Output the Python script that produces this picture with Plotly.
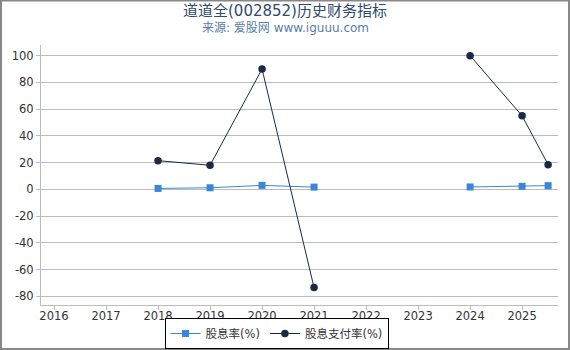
import plotly.graph_objects as go

years = [2018, 2019, 2020, 2021, 2022, 2023, 2024, 2025, 2025.5]
dividend_yield = [0.7, 1.2, 3.0, 1.7, None, None, 1.8, 2.3, 2.8]
payout_ratio = [21.5, 18.0, 90.0, -73.5, None, None, 100.0, 55.0, 18.5]
tick_years = [2016, 2017, 2018, 2019, 2020, 2021, 2022, 2023, 2024, 2025]
y_ticks = [-80, -60, -40, -20, 0, 20, 40, 60, 80, 100]

W, H = 570, 350
L, R, T, B = 41, 12, 45, 45
pw, ph = W - L - R, H - T - B

FONT = "DejaVu Sans, Noto Sans CJK SC, sans-serif"

fig = go.Figure()
fig.add_trace(go.Scatter(
    x=years, y=dividend_yield, name="股息率(%)", mode="lines+markers",
    line=dict(color="#3a87d9", width=1),
    marker=dict(symbol="square", size=7, color="#3a87d9"),
    connectgaps=False,
))
fig.add_trace(go.Scatter(
    x=years, y=payout_ratio, name="股息支付率(%)", mode="lines+markers",
    line=dict(color="#1a2a44", width=1),
    marker=dict(symbol="circle", size=7.5, color="#1a2a44"),
    connectgaps=False,
))

fig.update_layout(
    width=W, height=H,
    margin=dict(l=L, r=R, t=T, b=B, autoexpand=False),
    paper_bgcolor="white", plot_bgcolor="white",
    font=dict(family=FONT, size=11.5, color="#333333"),
    showlegend=True,
    legend=dict(
        orientation="h", xref="container", yref="container",
        x=276.5 / W, xanchor="center",
        y=1 - 349 / H, yanchor="bottom",
        bordercolor="black", borderwidth=1, bgcolor="white",
        font=dict(size=11.5, color="#333333"),
        itemwidth=30, tracegroupgap=0,
    ),
    xaxis=dict(
        range=[2015.75, 2025.69], tickvals=tick_years,
        ticktext=[str(y) for y in tick_years],
        showgrid=False, zeroline=False,
        showline=True, linecolor="#bbbbbb", linewidth=1,
        ticks="outside", ticklen=4, tickcolor="#bbbbbb",
        ticklabelstandoff=-4,
    ),
    yaxis=dict(
        range=[-86.5, 108], tickvals=y_ticks,
        ticktext=[str(v) for v in y_ticks],
        showgrid=True, gridcolor="#bbbbbb", gridwidth=1, zeroline=False,
        showline=True, linecolor="#bbbbbb", linewidth=1,
        ticks="outside", ticklen=4, tickcolor="#bbbbbb",
    ),
    annotations=[
        dict(text="道道全(002852)历史财务指标", xref="paper", yref="paper",
             x=(285 - L) / pw, y=1 + (T - 11) / ph, xanchor="center", yanchor="middle",
             showarrow=False, font=dict(size=15, color="#2f4a6a")),
        dict(text="来源: 爱股网 www.iguuu.com", xref="paper", yref="paper",
             x=(285 - L) / pw, y=1 + (T - 28) / ph, xanchor="center", yanchor="middle",
             showarrow=False, font=dict(size=12, color="#5a7ca6")),
    ],
    shapes=[
        dict(type="rect", xref="paper", yref="paper",
             x0=-(L - 1) / pw, x1=1 + (R - 1) / pw,
             y0=-(B - 1) / ph, y1=1 + (T - 0.5) / ph,
             line=dict(color="#888888", width=2), fillcolor="rgba(0,0,0,0)", layer="below"),
    ],
)

fig.write_html("out.html")
